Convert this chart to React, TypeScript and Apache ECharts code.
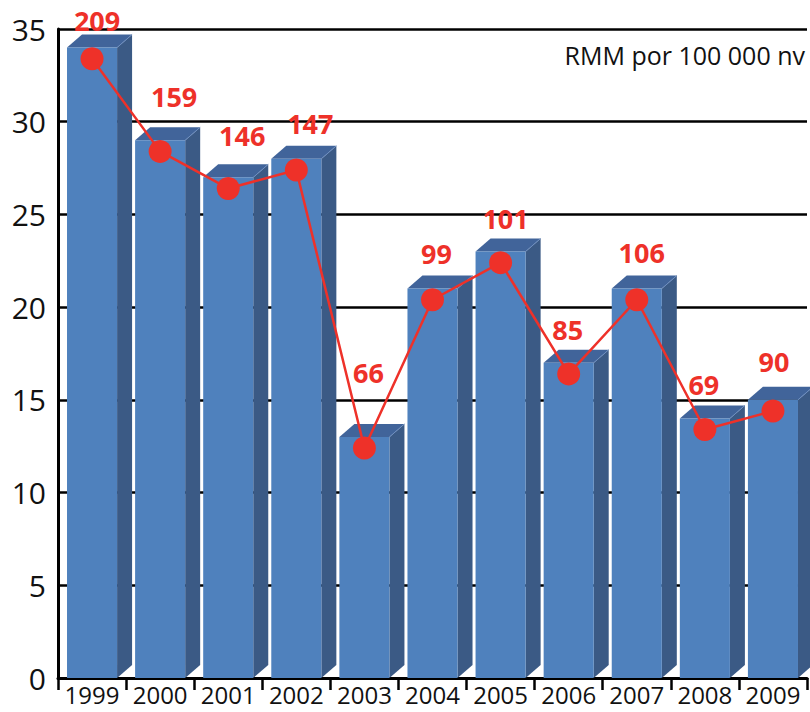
import React, { useEffect, useRef } from "react";
import * as echarts from "echarts";

const years = ["1999", "2000", "2001", "2002", "2003", "2004", "2005", "2006", "2007", "2008", "2009"];
const barValues = [34, 29, 27, 28, 13, 21, 23, 17, 21, 14, 15];
const lineValues = [33.4, 28.4, 26.4, 27.4, 12.4, 20.4, 22.4, 16.4, 20.4, 13.4, 14.4];
const rmmLabels = [209, 159, 146, 147, 66, 99, 101, 85, 106, 69, 90];
const labelOffsets = [
  [5, -38], [14, -55], [14, -53], [14, -46], [4, -76], [4, -46],
  [5, -44], [-1, -44], [5, -47], [-1, -45], [1, -49],
];

const FONT = "'Open Sans', 'Noto Sans', sans-serif";

export default function App() {
  const ref = useRef<HTMLDivElement>(null);
  useEffect(() => {
    if (!ref.current) return;
    const chart = echarts.init(ref.current, null, { renderer: "svg" });
    const option: any = {
      animation: false,
      backgroundColor: "#ffffff",
      grid: { left: 58, right: 3, top: 29, bottom: 34, containLabel: false },
      graphic: [
        {
          type: "text",
          right: 5,
          top: 42,
          style: { text: "RMM por 100 000 nv", font: `25px ${FONT}`, fill: "#111" },
        },
      ],
      xAxis: {
        type: "category",
        data: years,
        boundaryGap: true,
        axisLine: { show: true, lineStyle: { color: "#000", width: 3 } },
        axisTick: { show: true, length: 12, lineStyle: { color: "#000", width: 2.5 } },
        axisLabel: { color: "#111", fontSize: 24, lineHeight: 24, fontFamily: FONT, margin: 4, interval: 0 },
      },
      yAxis: {
        type: "value",
        min: 0,
        max: 35,
        interval: 5,
        axisLine: { show: true, lineStyle: { color: "#000", width: 3 } },
        axisTick: { show: false },
        axisLabel: { color: "#111", fontSize: 30, fontFamily: FONT, margin: 12 },
        splitLine: { show: true, lineStyle: { color: "#000", width: 2.5 } },
      },
      series: [
        {
          type: "custom",
          data: barValues.map((v, i) => [i, v]),
          encode: { x: 0, y: 1 },
          z: 2,
          renderItem: (params: any, api: any) => {
            const i = api.value(0);
            const v = api.value(1);
            const top = api.coord([i, v]);
            const base = api.coord([i, 0]);
            const band = api.size([1, 0])[0];
            const w = band * (50 / 68);
            const dx = 15;
            const dy = 13;
            const x0 = top[0] - w / 2;
            const x1 = top[0] + w / 2;
            return {
              type: "group",
              children: [
                {
                  type: "polygon",
                  shape: { points: [[x1, top[1]], [x1 + dx, top[1] - dy], [x1 + dx, base[1] - dy], [x1, base[1]]] },
                  style: { fill: "#3b5a85" },
                },
                {
                  type: "polygon",
                  shape: { points: [[x0, top[1]], [x0 + dx, top[1] - dy], [x1 + dx, top[1] - dy], [x1, top[1]]] },
                  style: { fill: "#41649a" },
                },
                {
                  type: "line",
                  shape: { x1: x1, y1: top[1], x2: x1 + dx, y2: top[1] - dy },
                  style: { stroke: "#6f8fbf", lineWidth: 1 },
                },
                {
                  type: "rect",
                  shape: { x: x0, y: top[1], width: w, height: base[1] - top[1] },
                  style: { fill: "#4f81bd" },
                },
              ],
            };
          },
        },
        {
          type: "line",
          z: 5,
          data: lineValues.map((v, i) => ({
            value: v,
            label: {
              show: true,
              position: "inside",
              offset: labelOffsets[i],
              formatter: String(rmmLabels[i]),
            },
          })),
          symbol: "circle",
          symbolSize: 23,
          lineStyle: { color: "#ee3129", width: 2.5 },
          itemStyle: { color: "#ee3129" },
          label: {
            show: true,
            color: "#ee3129",
            fontSize: 27,
            fontWeight: "bold",
            fontFamily: FONT,
          },
        },
      ],
    };
    chart.setOption(option);
    return () => chart.dispose();
  }, []);
  return <div ref={ref} style={{ width: 810, height: 712, position: "absolute", left: 0, top: 0 }} />;
}
